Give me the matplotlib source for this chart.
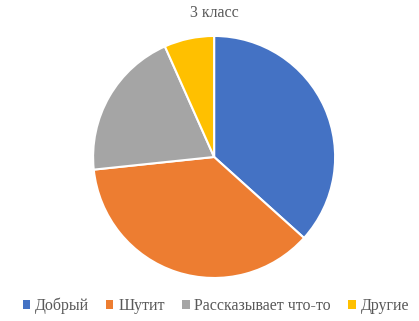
import matplotlib.pyplot as plt
from matplotlib.patches import Patch

labels = ["Добрый", "Шутит", "Рассказывает что-то", "Другие"]
values = [11, 11, 6, 2]
colors = ["#4472C4", "#ED7D31", "#A5A5A5", "#FFC000"]
title = "3 класс"

plt.rcParams['font.family'] = ['Liberation Serif', 'DejaVu Serif']

fig = plt.figure(figsize=(4.19, 3.21), dpi=100)
ax = fig.add_axes([0.222, 0.134, 0.578, 0.754])
ax.pie(values, colors=colors, startangle=90, counterclock=False,
       wedgeprops=dict(edgecolor="white", linewidth=1.5))
ax.set_aspect("equal")
ax.set_xlim(-1, 1)
ax.set_ylim(-1, 1)

fig.text(0.511, 1 - 13 / 321, title, ha="center", va="center",
         fontsize=11.5, color="#595959")

handles = [Patch(facecolor=c, edgecolor="none") for c in colors]
fig.legend(handles, labels, loc="center", bbox_to_anchor=(0.515, 1 - 306 / 321),
           ncol=4, frameon=False, fontsize=11.5, labelcolor="#595959",
           handlelength=0.45, handleheight=0.45, handletextpad=0.3,
           columnspacing=1.1, borderpad=0)

fig.savefig("out.png", dpi=100)
